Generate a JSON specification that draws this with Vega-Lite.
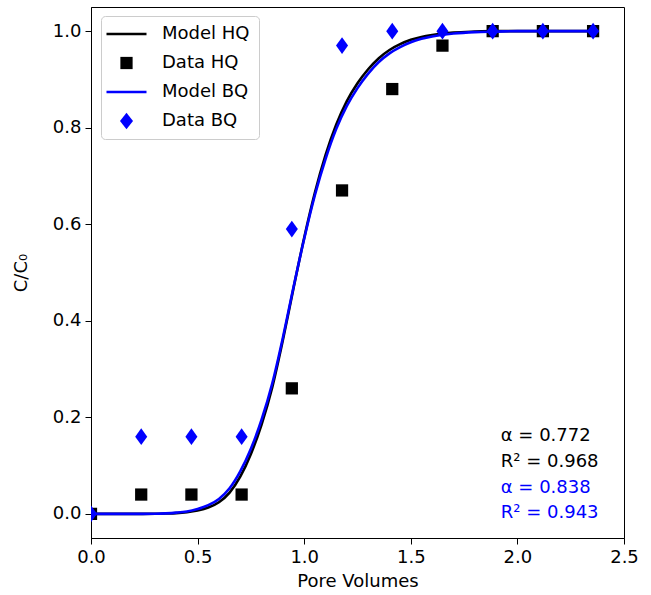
{
  "$schema": "https://vega.github.io/schema/vega-lite/v6.json",
  "width": 533,
  "height": 531,
  "autosize": {"type": "none"},
  "padding": {"left": 91, "top": 7, "right": 27, "bottom": 57},
  "background": "white",
  "config": {
    "font": "DejaVu Sans",
    "view": {"stroke": "black", "strokeWidth": 1},
    "axis": {
      "grid": false,
      "domainColor": "black",
      "tickColor": "black",
      "tickSize": 6,
      "labelPadding": 4,
      "labelFontSize": 18,
      "labelColor": "black",
      "labelFlush": false,
      "labelOverlap": false,
      "titleFontSize": 18,
      "titleFontWeight": "normal",
      "titleColor": "black",
      "labelFont": "DejaVu Sans",
      "titleFont": "DejaVu Sans"
    },
    "legend": {
      "title": null,
      "orient": "none",
      "legendX": 10,
      "legendY": 9,
      "padding": 9,
      "rowPadding": 11,
      "labelFontSize": 18,
      "labelFont": "DejaVu Sans",
      "labelColor": "black",
      "labelOffset": 34,
      "symbolSize": 1444,
      "strokeColor": "#cccccc",
      "fillColor": "white",
      "cornerRadius": 4,
      "symbolOpacity": 1
    }
  },
  "datasets": {
    "models": [
      {"pv": 0.0, "c": 0.0, "series": "Model HQ"},
      {"pv": 0.1, "c": 0.0, "series": "Model HQ"},
      {"pv": 0.2, "c": 0.0, "series": "Model HQ"},
      {"pv": 0.3, "c": 0.0002, "series": "Model HQ"},
      {"pv": 0.35, "c": 0.0007, "series": "Model HQ"},
      {"pv": 0.4, "c": 0.0015, "series": "Model HQ"},
      {"pv": 0.45, "c": 0.0035, "series": "Model HQ"},
      {"pv": 0.5, "c": 0.007, "series": "Model HQ"},
      {"pv": 0.55, "c": 0.013, "series": "Model HQ"},
      {"pv": 0.6, "c": 0.024, "series": "Model HQ"},
      {"pv": 0.65, "c": 0.044, "series": "Model HQ"},
      {"pv": 0.7, "c": 0.077, "series": "Model HQ"},
      {"pv": 0.75, "c": 0.124, "series": "Model HQ"},
      {"pv": 0.8, "c": 0.185, "series": "Model HQ"},
      {"pv": 0.85, "c": 0.262, "series": "Model HQ"},
      {"pv": 0.9, "c": 0.36, "series": "Model HQ"},
      {"pv": 0.95, "c": 0.468, "series": "Model HQ"},
      {"pv": 1.0, "c": 0.572, "series": "Model HQ"},
      {"pv": 1.05, "c": 0.665, "series": "Model HQ"},
      {"pv": 1.1, "c": 0.743, "series": "Model HQ"},
      {"pv": 1.15, "c": 0.806, "series": "Model HQ"},
      {"pv": 1.2, "c": 0.855, "series": "Model HQ"},
      {"pv": 1.25, "c": 0.892, "series": "Model HQ"},
      {"pv": 1.3, "c": 0.921, "series": "Model HQ"},
      {"pv": 1.35, "c": 0.944, "series": "Model HQ"},
      {"pv": 1.4, "c": 0.961, "series": "Model HQ"},
      {"pv": 1.45, "c": 0.973, "series": "Model HQ"},
      {"pv": 1.5, "c": 0.982, "series": "Model HQ"},
      {"pv": 1.55, "c": 0.988, "series": "Model HQ"},
      {"pv": 1.6, "c": 0.992, "series": "Model HQ"},
      {"pv": 1.7, "c": 0.997, "series": "Model HQ"},
      {"pv": 1.8, "c": 0.999, "series": "Model HQ"},
      {"pv": 1.9, "c": 1.0, "series": "Model HQ"},
      {"pv": 2.0, "c": 1.0, "series": "Model HQ"},
      {"pv": 2.2, "c": 1.0, "series": "Model HQ"},
      {"pv": 2.38, "c": 1.0, "series": "Model HQ"},
      {"pv": 0.0, "c": 0.0, "series": "Model BQ"},
      {"pv": 0.1, "c": 0.0, "series": "Model BQ"},
      {"pv": 0.2, "c": 0.0, "series": "Model BQ"},
      {"pv": 0.3, "c": 0.0003, "series": "Model BQ"},
      {"pv": 0.35, "c": 0.001, "series": "Model BQ"},
      {"pv": 0.4, "c": 0.0025, "series": "Model BQ"},
      {"pv": 0.45, "c": 0.005, "series": "Model BQ"},
      {"pv": 0.5, "c": 0.01, "series": "Model BQ"},
      {"pv": 0.55, "c": 0.018, "series": "Model BQ"},
      {"pv": 0.6, "c": 0.031, "series": "Model BQ"},
      {"pv": 0.65, "c": 0.053, "series": "Model BQ"},
      {"pv": 0.7, "c": 0.088, "series": "Model BQ"},
      {"pv": 0.75, "c": 0.135, "series": "Model BQ"},
      {"pv": 0.8, "c": 0.195, "series": "Model BQ"},
      {"pv": 0.85, "c": 0.27, "series": "Model BQ"},
      {"pv": 0.9, "c": 0.365, "series": "Model BQ"},
      {"pv": 0.95, "c": 0.47, "series": "Model BQ"},
      {"pv": 1.0, "c": 0.57, "series": "Model BQ"},
      {"pv": 1.05, "c": 0.66, "series": "Model BQ"},
      {"pv": 1.1, "c": 0.735, "series": "Model BQ"},
      {"pv": 1.15, "c": 0.797, "series": "Model BQ"},
      {"pv": 1.2, "c": 0.845, "series": "Model BQ"},
      {"pv": 1.25, "c": 0.882, "series": "Model BQ"},
      {"pv": 1.3, "c": 0.912, "series": "Model BQ"},
      {"pv": 1.35, "c": 0.936, "series": "Model BQ"},
      {"pv": 1.4, "c": 0.954, "series": "Model BQ"},
      {"pv": 1.45, "c": 0.967, "series": "Model BQ"},
      {"pv": 1.5, "c": 0.977, "series": "Model BQ"},
      {"pv": 1.55, "c": 0.984, "series": "Model BQ"},
      {"pv": 1.6, "c": 0.989, "series": "Model BQ"},
      {"pv": 1.7, "c": 0.995, "series": "Model BQ"},
      {"pv": 1.8, "c": 0.998, "series": "Model BQ"},
      {"pv": 1.9, "c": 0.999, "series": "Model BQ"},
      {"pv": 2.0, "c": 1.0, "series": "Model BQ"},
      {"pv": 2.2, "c": 1.0, "series": "Model BQ"},
      {"pv": 2.38, "c": 1.0, "series": "Model BQ"}
    ],
    "obs": [
      {"pv": 0.0, "c": 0.0, "series": "Data HQ"},
      {"pv": 0.2355, "c": 0.04, "series": "Data HQ"},
      {"pv": 0.471, "c": 0.04, "series": "Data HQ"},
      {"pv": 0.7065, "c": 0.04, "series": "Data HQ"},
      {"pv": 0.942, "c": 0.26, "series": "Data HQ"},
      {"pv": 1.1775, "c": 0.67, "series": "Data HQ"},
      {"pv": 1.413, "c": 0.88, "series": "Data HQ"},
      {"pv": 1.6485, "c": 0.97, "series": "Data HQ"},
      {"pv": 1.884, "c": 1.0, "series": "Data HQ"},
      {"pv": 2.1195, "c": 1.0, "series": "Data HQ"},
      {"pv": 2.355, "c": 1.0, "series": "Data HQ"},
      {"pv": 0.0, "c": 0.0, "series": "Data BQ"},
      {"pv": 0.2355, "c": 0.16, "series": "Data BQ"},
      {"pv": 0.471, "c": 0.16, "series": "Data BQ"},
      {"pv": 0.7065, "c": 0.16, "series": "Data BQ"},
      {"pv": 0.942, "c": 0.59, "series": "Data BQ"},
      {"pv": 1.1775, "c": 0.97, "series": "Data BQ"},
      {"pv": 1.413, "c": 1.0, "series": "Data BQ"},
      {"pv": 1.6485, "c": 1.0, "series": "Data BQ"},
      {"pv": 1.884, "c": 1.0, "series": "Data BQ"},
      {"pv": 2.1195, "c": 1.0, "series": "Data BQ"},
      {"pv": 2.355, "c": 1.0, "series": "Data BQ"}
    ],
    "notes": [
      {"pv": 1.922, "c": 0.161, "label": "α = 0.772", "group": "HQ"},
      {"pv": 1.922, "c": 0.1075, "label": "R² = 0.968", "group": "HQ"},
      {"pv": 1.922, "c": 0.0537, "label": "α = 0.838", "group": "BQ"},
      {"pv": 1.922, "c": 0.002, "label": "R² = 0.943", "group": "BQ"}
    ]
  },
  "encoding": {
    "x": {
      "field": "pv", "type": "quantitative",
      "scale": {"domain": [0, 2.5], "nice": false, "zero": false},
      "axis": {"title": "Pore Volumes", "values": [0, 0.5, 1, 1.5, 2, 2.5], "format": ".1f", "titlePadding": 6}
    },
    "y": {
      "field": "c", "type": "quantitative",
      "scale": {"domain": [-0.05, 1.05], "nice": false, "zero": false},
      "axis": {"title": "C/C₀", "values": [0, 0.2, 0.4, 0.6, 0.8, 1.0], "format": ".1f", "titlePadding": 22}
    }
  },
  "layer": [
    {
      "data": {"name": "models"},
      "transform": [{"filter": "datum.series === 'Model HQ'"}],
      "mark": {"type": "line", "strokeWidth": 2.6, "clip": true, "interpolate": "monotone"},
      "encoding": {
        "color": {
          "field": "series", "type": "nominal",
          "scale": {"domain": ["Model HQ", "Data HQ", "Model BQ", "Data BQ"], "range": ["#000000", "#000000", "#0000ff", "#0000ff"]},
          "legend": {
            "encode": {
              "symbols": {
                "update": {
                  "x": {"value": 16.5},
                  "size": {"signal": "datum.value === 'Data BQ' ? 280 : (datum.value === 'Data HQ' ? 150 : 1600)"},
                  "stroke": {"signal": "datum.value === 'Model HQ' || datum.value === 'Data HQ' ? '#000000' : '#0000ff'"},
                  "fill": {"signal": "datum.value === 'Model HQ' || datum.value === 'Data HQ' ? '#000000' : '#0000ff'"},
                  "strokeWidth": {"signal": "datum.value === 'Model HQ' || datum.value === 'Model BQ' ? 2.6 : 0"},
                  "shape": {"signal": "datum.value === 'Data BQ' ? 'M0,-1L0.78,0L0,1L-0.78,0Z' : (datum.value === 'Data HQ' ? 'square' : 'stroke')"}
                }
              }
            }
          }
        }
      }
    },
    {
      "data": {"name": "obs"},
      "transform": [{"filter": "datum.series === 'Data HQ'"}],
      "mark": {"type": "point", "filled": true, "opacity": 1, "clip": true, "size": 150, "shape": "square"},
      "encoding": {
        "color": {"field": "series", "type": "nominal"}
      }
    },
    {
      "data": {"name": "models"},
      "transform": [{"filter": "datum.series === 'Model BQ'"}],
      "mark": {"type": "line", "strokeWidth": 2.6, "clip": true, "interpolate": "monotone"},
      "encoding": {
        "color": {"field": "series", "type": "nominal"}
      }
    },
    {
      "data": {"name": "obs"},
      "transform": [{"filter": "datum.series === 'Data BQ'"}],
      "mark": {"type": "point", "filled": true, "opacity": 1, "clip": true, "size": 280, "shape": "M0,-1L0.72,0L0,1L-0.72,0Z"},
      "encoding": {
        "color": {"field": "series", "type": "nominal"}
      }
    },
    {
      "data": {"name": "notes"},
      "mark": {"type": "text", "align": "left", "baseline": "middle", "fontSize": 18, "font": "DejaVu Sans"},
      "encoding": {
        "text": {"field": "label"},
        "color": {"condition": {"test": "datum.group === 'BQ'", "value": "#0000ff"}, "value": "#000000"}
      }
    }
  ]
}
